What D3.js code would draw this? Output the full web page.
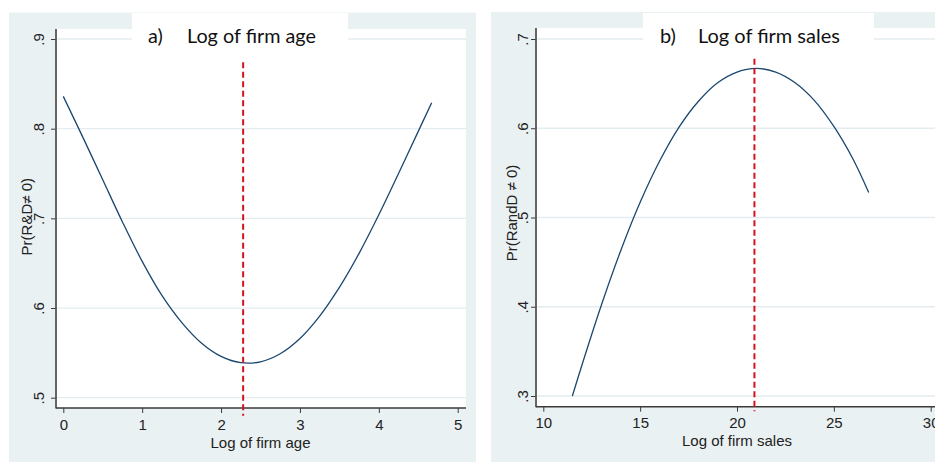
<!DOCTYPE html>
<html>
<head>
<meta charset="utf-8">
<script src="https://cdn.jsdelivr.net/npm/d3@7"></script>
<style>
  html, body { margin: 0; padding: 0; background: #ffffff; }
  svg { display: block; }
</style>
</head>
<body>
<svg id="chart" width="935" height="462"></svg>
<script>
// ---- Data ----
const ageX = [0, 0.25, 0.5, 0.75, 1.0, 1.25, 1.5, 1.75, 2.0, 2.25, 2.5, 2.75, 3.0, 3.25, 3.5, 3.75, 4.0, 4.25, 4.5, 4.67];
const ageP = [0.836, 0.790, 0.743, 0.696, 0.652, 0.614, 0.584, 0.561, 0.546, 0.539, 0.540, 0.549, 0.566, 0.591, 0.623, 0.661, 0.704, 0.750, 0.797, 0.829];
const salesX = [11.5, 12, 13, 14, 15, 16, 17, 18, 19, 20, 21, 22, 23, 24, 25, 26, 26.8];
const salesP = [0.300, 0.335, 0.402, 0.463, 0.517, 0.563, 0.601, 0.630, 0.651, 0.663, 0.667, 0.663, 0.651, 0.631, 0.602, 0.565, 0.528];
const ageTicksX = [0, 1, 2, 3, 4, 5];
const ageTicksY = [0.5, 0.6, 0.7, 0.8, 0.9];
const salesTicksX = [10, 15, 20, 25, 30];
const salesTicksY = [0.3, 0.4, 0.5, 0.6, 0.7];
const ageTurning = 2.28;      // x of red dashed line (panel a)
const ageTurningSpan = [0.48, 0.874];
const salesTurning = 20.9;    // x of red dashed line (panel b)
const salesTurningSpan = [0.283, 0.678];
const titles = ["a)", "Log of firm age", "b)", "Log of firm sales"];
const xTitles = ["Log of firm age", "Log of firm sales"];
const yTitles = ["Pr(R&D\u2260 0)", "Pr(RandD \u2260 0)"];

// ---- Styling / layout ----
const BG = "#eaf1f3";
const GRID = "#e3ecef";
const LINE = "#1a476f";
const RED = "#d0141c";
const AXIS = "#3a3a3a";
const TICKFONT = "'Liberation Sans Narrow', 'Liberation Sans', Arial, sans-serif";
const TITLEFONT = "Lato, 'Open Sans', sans-serif";

const svg = d3.select("#chart");

const panels = [
  {
    bg: [9, 12.5, 476, 462],
    plot: [56, 29, 466, 408],
    titleBox: [132, 13, 348, 29],
    titleA: titles[0], titleB: titles[1], titleAx: 148, titleBx: 187, titleW: 129, titleY: 42.5,
    xDom: [0, 5], xRange: [63.3, 457.7],
    yDom: [0.5, 0.9], yRange: [397.7, 39],
    xTicks: ageTicksX, yTicks: ageTicksY,
    xs: ageX, ys: ageP,
    vline: ageTurning, vspan: ageTurningSpan,
    xTitle: xTitles[0], yTitle: yTitles[0],
    yLabOff: -12, yTitleOff: -24, xLabBase: 22, xTitleBase: 40,
    yTitleCenter: 216.7
  },
  {
    bg: [491, 12, 935, 462],
    plot: [536, 28, 935, 406.7],
    titleBox: [643, 13, 874, 28],
    titleA: titles[2], titleB: titles[3], titleAx: 660, titleBx: 698, titleW: 142, titleY: 42.5,
    xDom: [10, 30], xRange: [543.3, 930.7],
    yDom: [0.3, 0.7], yRange: [396, 39],
    xTicks: salesTicksX, yTicks: salesTicksY,
    xs: salesX, ys: salesP,
    vline: salesTurning, vspan: salesTurningSpan,
    xTitle: xTitles[1], yTitle: yTitles[1],
    yLabOff: -8, yTitleOff: -19, xLabBase: 21, xTitleBase: 39.5,
    yTitleCenter: 213
  }
];

const fmt = d => {
  const s = d3.format(".1f")(d);
  return s.startsWith("0") ? s.slice(1) : s;
};

panels.forEach((p, i) => {
  const g = svg.append("g");
  // panel background
  g.append("rect").attr("x", p.bg[0]).attr("y", p.bg[1])
    .attr("width", p.bg[2] - p.bg[0]).attr("height", p.bg[3] - p.bg[1]).attr("fill", BG);
  // plot region
  g.append("rect").attr("x", p.plot[0]).attr("y", p.plot[1])
    .attr("width", p.plot[2] - p.plot[0]).attr("height", p.plot[3] - p.plot[1]).attr("fill", "#ffffff");

  const x = d3.scaleLinear().domain(p.xDom).range(p.xRange);
  const y = d3.scaleLinear().domain(p.yDom).range(p.yRange);

  // gridlines
  g.append("g").selectAll("line").data(p.yTicks).join("line")
    .attr("x1", p.plot[0]).attr("x2", p.plot[2])
    .attr("y1", d => y(d)).attr("y2", d => y(d))
    .attr("stroke", GRID).attr("stroke-width", 1.3);

  // title box (covers gridline)
  g.append("rect").attr("x", p.titleBox[0]).attr("y", p.titleBox[1])
    .attr("width", p.titleBox[2] - p.titleBox[0]).attr("height", p.titleBox[3] - p.titleBox[1] + 18)
    .attr("fill", "#ffffff");

  // curve
  const pts = p.xs.map((v, k) => [v, p.ys[k]]);
  g.append("path").datum(pts)
    .attr("fill", "none").attr("stroke", LINE).attr("stroke-width", 1.3)
    .attr("d", d3.line().x(d => x(d[0])).y(d => y(d[1])).curve(d3.curveCatmullRom.alpha(0.5)));

  // Y axis
  const yAxis = d3.axisLeft(y).tickValues(p.yTicks).tickSize(5).tickSizeOuter(0).tickFormat(fmt);
  const ya = g.append("g").attr("transform", `translate(${p.plot[0]},0)`).call(yAxis);
  ya.select(".domain").remove();
  ya.selectAll(".tick line").attr("stroke", AXIS).attr("stroke-width", 1);
  ya.selectAll(".tick text")
    .attr("transform", "rotate(-90)")
    .attr("x", 0).attr("y", p.yLabOff).attr("dy", null).attr("dx", null)
    .attr("text-anchor", "middle")
    .attr("fill", "#222").style("font-family", TICKFONT).style("font-size", "15px");

  // X axis
  const xAxis = d3.axisBottom(x).tickValues(p.xTicks).tickSize(5).tickSizeOuter(0).tickFormat(d3.format("d"));
  const xa = g.append("g").attr("transform", `translate(0,${p.plot[3]})`).call(xAxis);
  xa.select(".domain").remove();
  xa.selectAll(".tick line").attr("stroke", AXIS).attr("stroke-width", 1);
  xa.selectAll(".tick text")
    .attr("y", p.xLabBase).attr("dy", null)
    .attr("fill", "#222").style("font-family", TICKFONT).style("font-size", "15px");

  // axis lines
  g.append("line").attr("x1", p.plot[0]).attr("x2", p.plot[0]).attr("y1", p.plot[1]).attr("y2", p.plot[3] + 0.5)
    .attr("stroke", "#555").attr("stroke-width", 1.8);
  g.append("line").attr("x1", p.plot[0]).attr("x2", p.plot[2]).attr("y1", p.plot[3]).attr("y2", p.plot[3])
    .attr("stroke", AXIS).attr("stroke-width", 1.6);

  // red dashed turning-point line
  g.append("line")
    .attr("x1", x(p.vline)).attr("x2", x(p.vline))
    .attr("y1", y(p.vspan[1])).attr("y2", y(p.vspan[0]))
    .attr("stroke", RED).attr("stroke-width", 2).attr("stroke-dasharray", "6,3.5");

  // axis titles
  g.append("text")
    .attr("x", (x(p.xDom[0]) + x(p.xDom[1])) / 2)
    .attr("y", p.plot[3] + p.xTitleBase)
    .attr("text-anchor", "middle")
    .attr("fill", "#222").style("font-family", TICKFONT).style("font-size", "15px")
    .text(p.xTitle);
  g.append("text")
    .attr("transform", `translate(${p.plot[0] + p.yTitleOff},${p.yTitleCenter}) rotate(-90)`)
    .attr("text-anchor", "middle")
    .attr("fill", "#222").style("font-family", TICKFONT).style("font-size", "15px")
    .text(p.yTitle);

  // panel title
  const ta = g.append("text").attr("x", p.titleAx).attr("y", p.titleY)
    .attr("fill", "#111").style("font-family", TITLEFONT).style("font-size", "19px").text(p.titleA);
  const tb = g.append("text").attr("x", p.titleBx).attr("y", p.titleY)
    .attr("fill", "#111").style("font-family", TITLEFONT).style("font-size", "19px").text(p.titleB);
  const w = tb.node().getComputedTextLength();
  if (w > 0) {
    const fs = 19 * p.titleW / w;
    tb.style("font-size", fs + "px");
    ta.style("font-size", fs + "px");
  }
});
</script>
</body>
</html>
